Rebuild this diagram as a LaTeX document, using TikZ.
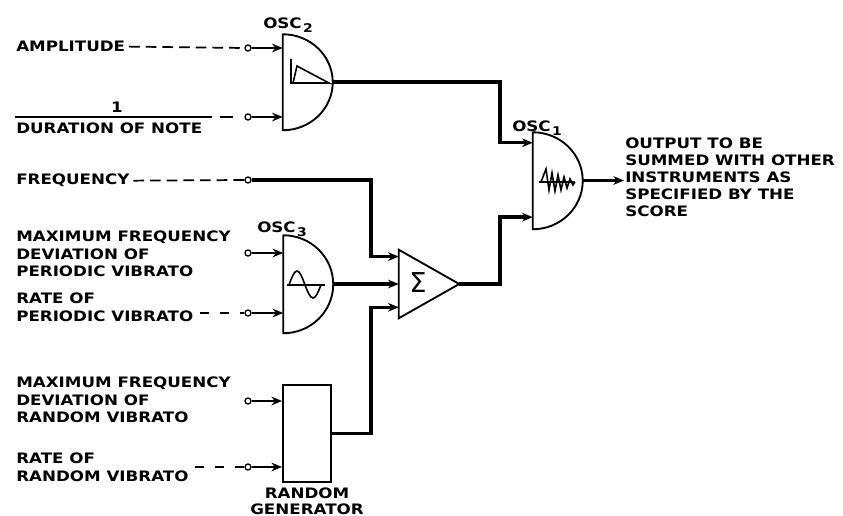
\documentclass[tikz,border=0pt]{standalone}
\usepackage{fontspec}
\usetikzlibrary{arrows.meta,calc}
\newfontfamily\lblfont{DejaVu Sans}[FakeStretch=1.16]
\newfontfamily\sigfont{DejaVu Sans}

\tikzset{
    lbl/.style={anchor=north west, inner sep=0.75pt, align=left, font=\lblfont\bfseries\fontsize{10.8}{13.1}\selectfont},
    jack/.style={circle, draw, line width=1pt, inner sep=0pt, minimum size=4.5pt, fill=white},
    feed/.style={line width=1.9pt, -{Stealth[length=8pt,width=6.5pt]}},
    wire/.style={line width=2.6pt, -{Stealth[length=8pt,width=6.5pt]}},
    dashin/.style={line width=1.3pt, dash pattern={on 8pt off 4.5pt}},
    block/.style={line width=1.4pt},
}

\begin{document}
\begin{tikzpicture}[x=0.75pt,y=0.75pt,yscale=-1,xscale=1]
    \useasboundingbox (0,0) rectangle (843,516);

    %Shape: OSC2 [half disc]
    \node (osc2) [minimum width=37.5pt, minimum height=72pt, inner sep=0pt] at (308,82) {};
    \draw [block] (osc2.north west) -- (osc2.south west) arc [start angle=90, end angle=-90, x radius=50, y radius=48] -- cycle ;
    \draw [line width=1.2pt] (291,59) -- (291,83) -- (329,83) -- (297,66) -- (293,83) ;
    %Shape: OSC3 [half disc]
    \node (osc3) [minimum width=37.5pt, minimum height=73.5pt, inner sep=0pt] at (308.5,284) {};
    \draw [block] (osc3.north west) -- (osc3.south west) arc [start angle=90, end angle=-90, x radius=50, y radius=49] -- cycle ;
    \draw [line width=1pt] (287,285) -- (325,285) ;
    \draw [line width=1.2pt] (289,285) sin (297,271) cos (305,285) sin (313,298) cos (321,285) ;
    %Shape: OSC1 [half disc]
    \node (osc1) [minimum width=37.5pt, minimum height=72.75pt, inner sep=0pt] at (558,180.5) {};
    \draw [block] (osc1.north west) -- (osc1.south west) arc [start angle=90, end angle=-90, x radius=50, y radius=48.5] -- cycle ;
    \draw [line width=1pt] (539,182) -- (575,182) ;
    \draw [line width=1.2pt] (541,182) -- (546,169) -- (549,190) -- (552,173) -- (555,191) -- (558,175) -- (561,190) -- (564,177) -- (567,188) -- (570,179) -- (573,185) -- (575,182) ;
    %Shape: Triangle [adder]
    \node (sum) [minimum width=45pt, minimum height=51pt, inner sep=0pt] at (429,284) {};
    \draw [block] (sum.north west) -- (sum.east) -- (sum.south west) -- cycle ;
    \draw (418,283) node (sig) [inner sep=0pt, font=\sigfont\fontsize{20.5}{20.5}\selectfont] {Σ};
    %Shape: Rectangle [random generator]
    \node (rnd) [draw, block, minimum width=36pt, minimum height=72.75pt, inner sep=0pt] at (307,433.5) {};

    % Input jacks
    \node (j1) [jack] at (248,48) {};
    \node (j2) [jack] at (248,117) {};
    \node (j3) [jack] at (248,180) {};
    \node (j4) [jack] at (248,253) {};
    \node (j5) [jack] at (248,313) {};
    \node (j6) [jack] at (248,401) {};
    \node (j7) [jack] at (248,467) {};

    % Text Node
    \draw (15,40) node (amp) [lbl] {AMPLITUDE};
    % Text Node
    \draw (15,122) node (dur) [lbl] {DURATION OF NOTE};
    % Text Node
    \draw (117,101) node (one) [lbl, anchor=north] {1};
    % Text Node
    \draw (15,173) node (freq) [lbl] {FREQUENCY};
    % Text Node
    \draw (15,230) node (maxP) [lbl] {MAXIMUM FREQUENCY\\DEVIATION OF\\PERIODIC VIBRATO};
    % Text Node
    \draw (15,292) node (rateP) [lbl] {RATE OF\\PERIODIC VIBRATO};
    % Text Node
    \draw (15,376) node (maxR) [lbl] {MAXIMUM FREQUENCY\\DEVIATION OF\\RANDOM VIBRATO};
    % Text Node
    \draw (15,452) node (rateR) [lbl] {RATE OF\\RANDOM VIBRATO};
    % Text Node
    \draw (307,487) node (rndtxt) [lbl, anchor=north, align=center, font=\lblfont\bfseries\fontsize{10.8}{11.5}\selectfont] {RANDOM\\GENERATOR};
    % Text Node
    \draw (262,17) node (osc2txt) [lbl] {OSC\kern1pt\raisebox{-2.5pt}{\fontsize{9}{9}\selectfont 2}};
    % Text Node
    \draw (256,221) node (osc3txt) [lbl] {OSC\kern1pt\raisebox{-2.5pt}{\fontsize{9}{9}\selectfont 3}};
    % Text Node
    \draw (511,120) node (osc1txt) [lbl] {OSC\kern1pt\raisebox{-2.5pt}{\fontsize{9}{9}\selectfont 1}};
    % Text Node
    \draw (624,137) node (outtxt) [lbl, font=\lblfont\bfseries\fontsize{10.8}{12.75}\selectfont] {OUTPUT TO BE\\SUMMED WITH OTHER\\INSTRUMENTS AS\\SPECIFIED BY THE\\SCORE};

    % fraction bar and bus lines
    \coordinate (barL) at (15,117);
    \coordinate (barR) at (212,117);
    \draw [line width=1pt] (barL) -- (barR) ;
    \coordinate (busL) at (371,0);
    \coordinate (busR) at (500,0);
    \coordinate (s1) at ($(sum.north west)!0.1!(sum.south west)$);
    \coordinate (s3) at ($(sum.north west)!0.84!(sum.south west)$);
    \coordinate (o1) at ($(osc1.north west)!0.113!(osc1.south west)$);
    \coordinate (o2) at ($(osc1.north west)!0.876!(osc1.south west)$);

    %Straight Lines [dashed leads]
    \draw [dashin] ([xshift=2pt]amp.east) -- (j1.west) ;
    \draw [dashin, dash pattern={on 0pt off 6pt on 10pt off 6pt}] (barR) -- (j2.west) ;
    \draw [dashin] ([xshift=2pt]freq.east) -- (j3.west) ;
    \draw [dashin, dash pattern={on 0pt off 4pt on 7pt off 4pt}] (rateP.east |- j5) -- (j5.west) ;
    \draw [dashin, dash pattern={on 0pt off 4pt on 7pt off 4pt}] (rateR.east |- j7) -- (j7.west) ;

    %Straight Lines [jack to block]
    \draw [feed] (j1.east) -- (j1 -| osc2.west) ;
    \draw [feed] (j2.east) -- (j2 -| osc2.west) ;
    \draw [feed] (j4.east) -- (j4 -| osc3.west) ;
    \draw [feed] (j5.east) -- (j5 -| osc3.west) ;
    \draw [feed] (j6.east) -- (j6 -| rnd.west) ;
    \draw [feed] (j7.east) -- (j7 -| rnd.west) ;

    %Straight Lines [signal paths]
    \draw [wire] (j3.east) -| (busL |- s1) -- (s1) ;
    \draw [wire] (osc3.east) -- (sum.west) ;
    \draw [wire] (rnd.east) -| (busL |- s3) -- (s3) ;
    \draw [wire] (osc2.east) -| (busR |- o1) -- (o1) ;
    \draw [wire] (sum.east) -| (busR |- o2) -- (o2) ;
    \draw [wire] (osc1.east) -- (osc1.east -| outtxt.west) ;

\end{tikzpicture}
\end{document}
